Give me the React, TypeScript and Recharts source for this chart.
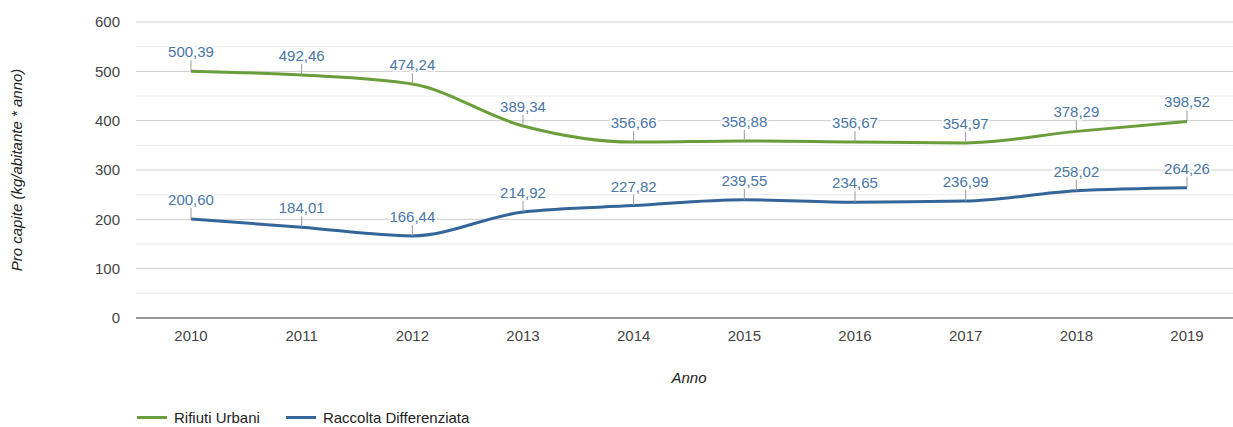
import { CartesianGrid, Label, LabelList, Legend, Line, LineChart, ReferenceLine, XAxis, YAxis } from "recharts"

const years = ["2010", "2011", "2012", "2013", "2014", "2015", "2016", "2017", "2018", "2019"]
const rifiutiUrbani = [500.39, 492.46, 474.24, 389.34, 356.66, 358.88, 356.67, 354.97, 378.29, 398.52]
const raccoltaDifferenziata = [200.6, 184.01, 166.44, 214.92, 227.82, 239.55, 234.65, 236.99, 258.02, 264.26]
const yTicks = [0, 100, 200, 300, 400, 500, 600]
const minorTicks = [50, 150, 250, 350, 450, 550]

const GREEN = "#6a9e3a"
const BLUE = "#34659a"
const FONT = "'Liberation Sans', Arial, sans-serif"
const FS = 15

const data = years.map((year, i) => ({
  year,
  urbani: rifiutiUrbani[i],
  differenziata: raccoltaDifferenziata[i],
}))

const fmt = (v: number) => v.toFixed(2).replace(".", ",")

function Annotation(props: any) {
  const { x, y, value } = props
  if (x == null || y == null) return null
  return (
    <g>
      <line x1={x} y1={y} x2={x} y2={y - 11} stroke="#999" strokeWidth={1} />
      <text
        x={x}
        y={y - 14}
        textAnchor="middle"
        fontSize={FS}
        fontFamily={FONT}
        fill="#4a76a8"
        stroke="#fff"
        strokeWidth={3}
        paintOrder="stroke"
      >
        {fmt(value)}
      </text>
    </g>
  )
}

function LegendContent() {
  const items = [
    { name: "Rifiuti Urbani", color: GREEN },
    { name: "Raccolta Differenziata", color: BLUE },
  ]
  return (
    <div style={{ display: "flex", fontFamily: FONT, fontSize: FS, color: "#222" }}>
      {items.map((it) => (
        <div key={it.name} style={{ display: "flex", alignItems: "center", marginRight: 26 }}>
          <span style={{ width: 30, height: 3, background: it.color, display: "inline-block", marginRight: 7 }} />
          <span>{it.name}</span>
        </div>
      ))}
    </div>
  )
}

export default function App() {
  return (
    <div style={{ position: "absolute", left: 0, top: 0, width: 1233, height: 427, overflow: "hidden", background: "#fff" }}>
      <LineChart width={1250} height={427} data={data} margin={{ top: 22, right: 8, left: 0, bottom: 39 }}>
        <CartesianGrid vertical={false} stroke="#cccccc" />
        {minorTicks.map((v) => (
          <ReferenceLine key={v} y={v} stroke="#ebebeb" />
        ))}
        <XAxis
          dataKey="year"
          padding={{ left: 55, right: 55 }}
          height={70}
          tickLine={false}
          tickSize={6}
          tickMargin={6}
          axisLine={{ stroke: "#999", strokeWidth: 2 }}
          tick={{ fill: "#444", fontSize: FS, fontFamily: FONT }}
        >
          <Label
            value="Anno"
            position="insideBottom"
            offset={5}
            style={{ fill: "#222", fontSize: FS, fontStyle: "italic", fontFamily: FONT }}
          />
        </XAxis>
        <YAxis
          width={136}
          domain={[0, 600]}
          ticks={yTicks}
          interval={0}
          tickLine={false}
          axisLine={false}
          tickSize={6}
          tickMargin={10}
          tick={{ fill: "#444", fontSize: FS, fontFamily: FONT }}
        >
          <Label
            content={(p: any) => {
              const vb = p.viewBox
              const cx = vb.x + 22
              const cy = vb.y + vb.height / 2
              return (
                <text
                  x={cx}
                  y={cy}
                  transform={`rotate(-90 ${cx} ${cy})`}
                  textAnchor="middle"
                  fontSize={FS}
                  fontStyle="italic"
                  fontFamily={FONT}
                  fill="#222"
                >
                  Pro capite (kg/abitante * anno)
                </text>
              )
            }}
          />
        </YAxis>
        <Legend
          verticalAlign="middle"
          layout="horizontal"
          content={<LegendContent />}
          wrapperStyle={{ top: 409, left: 137, width: "auto" }}
        />
        <Line
          type="monotone"
          dataKey="urbani"
          name="Rifiuti Urbani"
          stroke={GREEN}
          strokeWidth={3}
          dot={false}
          activeDot={false}
          isAnimationActive={false}
        >
          <LabelList dataKey="urbani" content={<Annotation />} />
        </Line>
        <Line
          type="monotone"
          dataKey="differenziata"
          name="Raccolta Differenziata"
          stroke={BLUE}
          strokeWidth={3}
          dot={false}
          activeDot={false}
          isAnimationActive={false}
        >
          <LabelList dataKey="differenziata" content={<Annotation />} />
        </Line>
      </LineChart>
    </div>
  )
}
